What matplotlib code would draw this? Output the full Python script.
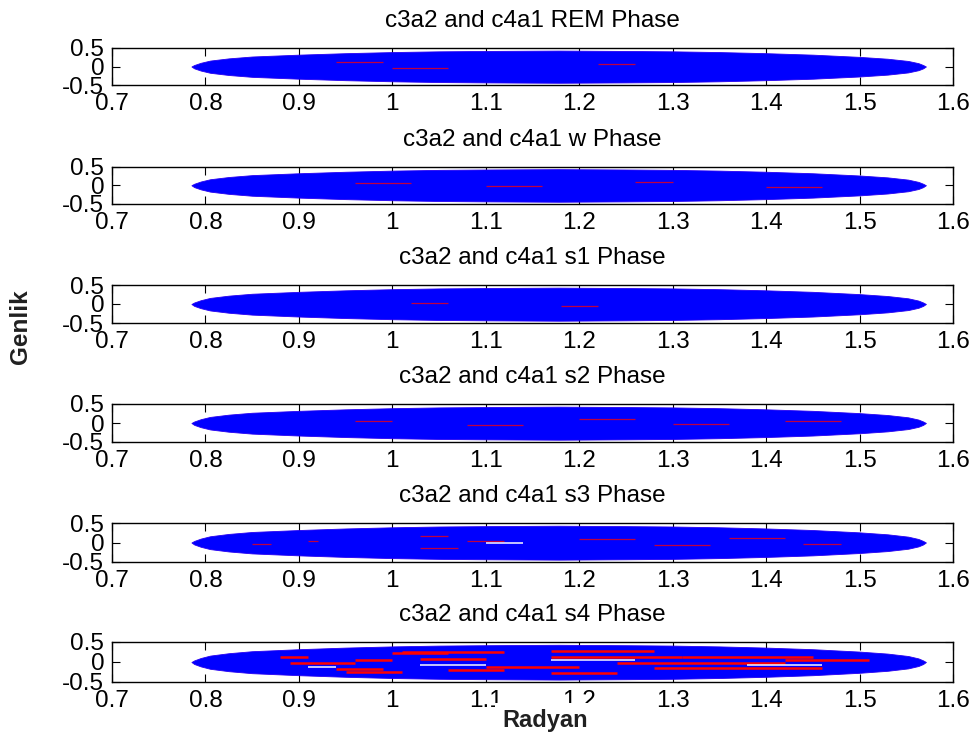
import matplotlib
matplotlib.use("Agg")
import matplotlib.pyplot as plt

plt.rcParams['font.family'] = ['Liberation Sans', 'DejaVu Sans']
plt.rcParams['axes.unicode_minus'] = False

# ---- data -------------------------------------------------------------
channel_pair = "c3a2 and c4a1"
phase_names = ["REM", "w", "s1", "s2", "s3", "s4"]

x_ticks = [0.7, 0.8, 0.9, 1.0, 1.1, 1.2, 1.3, 1.4, 1.5, 1.6]
x_tick_labels = ["0.7", "0.8", "0.9", "1", "1.1", "1.2", "1.3", "1.4", "1.5", "1.6"]
y_ticks = [-0.5, 0.0, 0.5]
y_tick_labels = ["-0.5", "0", "0.5"]

# outline of the bundle of phase curves (radian vs. amplitude)
env_x = [0.785, 0.788, 0.795, 0.805, 0.825, 0.850, 0.900, 0.950, 1.000,
         1.050, 1.100, 1.178, 1.250, 1.300, 1.350, 1.400, 1.450, 1.500,
         1.530, 1.552, 1.563, 1.568, 1.571]
env_upper = [0.00, 0.04, 0.10, 0.16, 0.22, 0.27, 0.32, 0.36, 0.39,
             0.41, 0.42, 0.43, 0.42, 0.41, 0.39, 0.36, 0.32, 0.26,
             0.21, 0.15, 0.09, 0.04, 0.00]
env_lower = [0.00, -0.05, -0.11, -0.17, -0.23, -0.28, -0.33, -0.37, -0.40,
             -0.42, -0.43, -0.44, -0.43, -0.42, -0.40, -0.37, -0.33, -0.27,
             -0.22, -0.16, -0.10, -0.05, 0.00]

# red curves visible through the blue bundle: (x start, x end, amplitude)
red_streaks = {
    "REM": [(0.94, 0.99, 0.11), (1.00, 1.06, -0.05), (1.22, 1.26, 0.08)],
    "w":   [(0.96, 1.02, 0.05), (1.10, 1.16, -0.02), (1.26, 1.30, 0.10),
            (1.40, 1.46, -0.05)],
    "s1":  [(1.02, 1.06, 0.02), (1.18, 1.22, -0.04)],
    "s2":  [(0.96, 1.00, 0.06), (1.08, 1.14, -0.06), (1.20, 1.26, 0.10),
            (1.30, 1.36, -0.02), (1.42, 1.48, 0.04)],
    "s3":  [(0.85, 0.87, -0.03), (0.91, 0.92, 0.05), (1.03, 1.06, 0.17),
            (1.03, 1.07, -0.15), (1.08, 1.12, 0.05), (1.20, 1.26, 0.10),
            (1.28, 1.34, -0.06), (1.36, 1.42, 0.12), (1.44, 1.48, -0.03)],
    "s4":  [(0.88, 0.91, 0.13), (0.89, 0.96, -0.03), (0.94, 0.99, -0.17),
            (0.96, 1.00, 0.05), (1.00, 1.06, 0.22), (1.01, 1.12, 0.26),
            (1.06, 1.12, -0.20), (0.95, 1.01, -0.25), (1.17, 1.28, 0.27),
            (1.17, 1.31, 0.13), (1.24, 1.42, -0.03), (1.28, 1.46, -0.15),
            (1.31, 1.45, 0.12), (1.17, 1.24, -0.28), (1.42, 1.51, 0.05),
            (1.10, 1.20, -0.12), (1.03, 1.10, 0.08)],
}
# gaps between curves showing the white background
white_streaks = {
    "s3": [(1.10, 1.14, -0.02)],
    "s4": [(0.91, 0.94, -0.12), (1.17, 1.26, 0.04), (1.38, 1.46, -0.08),
           (1.03, 1.10, -0.07)],
}

# ---- layout -------------------------------------------------------------
W, H = 977, 738
fig = plt.figure(figsize=(W / 100, H / 100), dpi=100)

left_px, right_px = 112, 953
top_px = [48, 166.5, 285, 404, 523, 642]
bottom_px = [85, 204, 323, 442, 562, 682]

for i, name in enumerate(phase_names):
    rect = [left_px / W, 1 - bottom_px[i] / H,
            (right_px - left_px) / W, (bottom_px[i] - top_px[i]) / H]
    ax = fig.add_axes(rect)
    ax.fill_between(env_x, env_lower, env_upper, color=(0, 0, 1),
                    linewidth=0.6, edgecolor=(0.15, 0, 0.95), zorder=2)
    heavy = name == "s4"
    for x0, x1, yv in red_streaks.get(name, []):
        ax.plot([x0, x1], [yv, yv], color=(1, 0, 0),
                lw=1.8 if heavy else 0.9, alpha=1.0 if heavy else 0.75,
                solid_capstyle='butt', zorder=3)
    for x0, x1, yv in white_streaks.get(name, []):
        ax.plot([x0, x1], [yv, yv], color=(1, 1, 1), lw=1.2,
                alpha=0.9, solid_capstyle='butt', zorder=3)

    ax.set_xlim(0.7, 1.6)
    ax.set_ylim(-0.5, 0.5)
    ax.set_xticks(x_ticks)
    ax.set_xticklabels(x_tick_labels)
    ax.set_yticks(y_ticks)
    ax.set_yticklabels(y_tick_labels)
    ax.tick_params(axis='both', direction='in', length=6, width=0.8,
                   top=True, right=True, labelsize=17.5, colors='black')
    ax.tick_params(axis='x', pad=5.5)
    ax.tick_params(axis='y', pad=5.5)
    for sp in ax.spines.values():
        sp.set_linewidth(1.0)
        sp.set_color('black')
    ax.set_title(f"{channel_pair} {name} Phase", fontsize=17.5, pad=15)

fig.text(545 / W, 1 - 721 / H, "Radyan", fontsize=17, fontweight='bold',
         ha='center', va='center', color='#202020', zorder=10,
         bbox=dict(facecolor='white', edgecolor='none', pad=5))
fig.text(20 / W, 1 - 327 / H, "Genlik", fontsize=17.5, fontweight='bold',
         ha='center', va='center', rotation=90, color='#202020')

fig.savefig("out.png", dpi=100, facecolor='white')
